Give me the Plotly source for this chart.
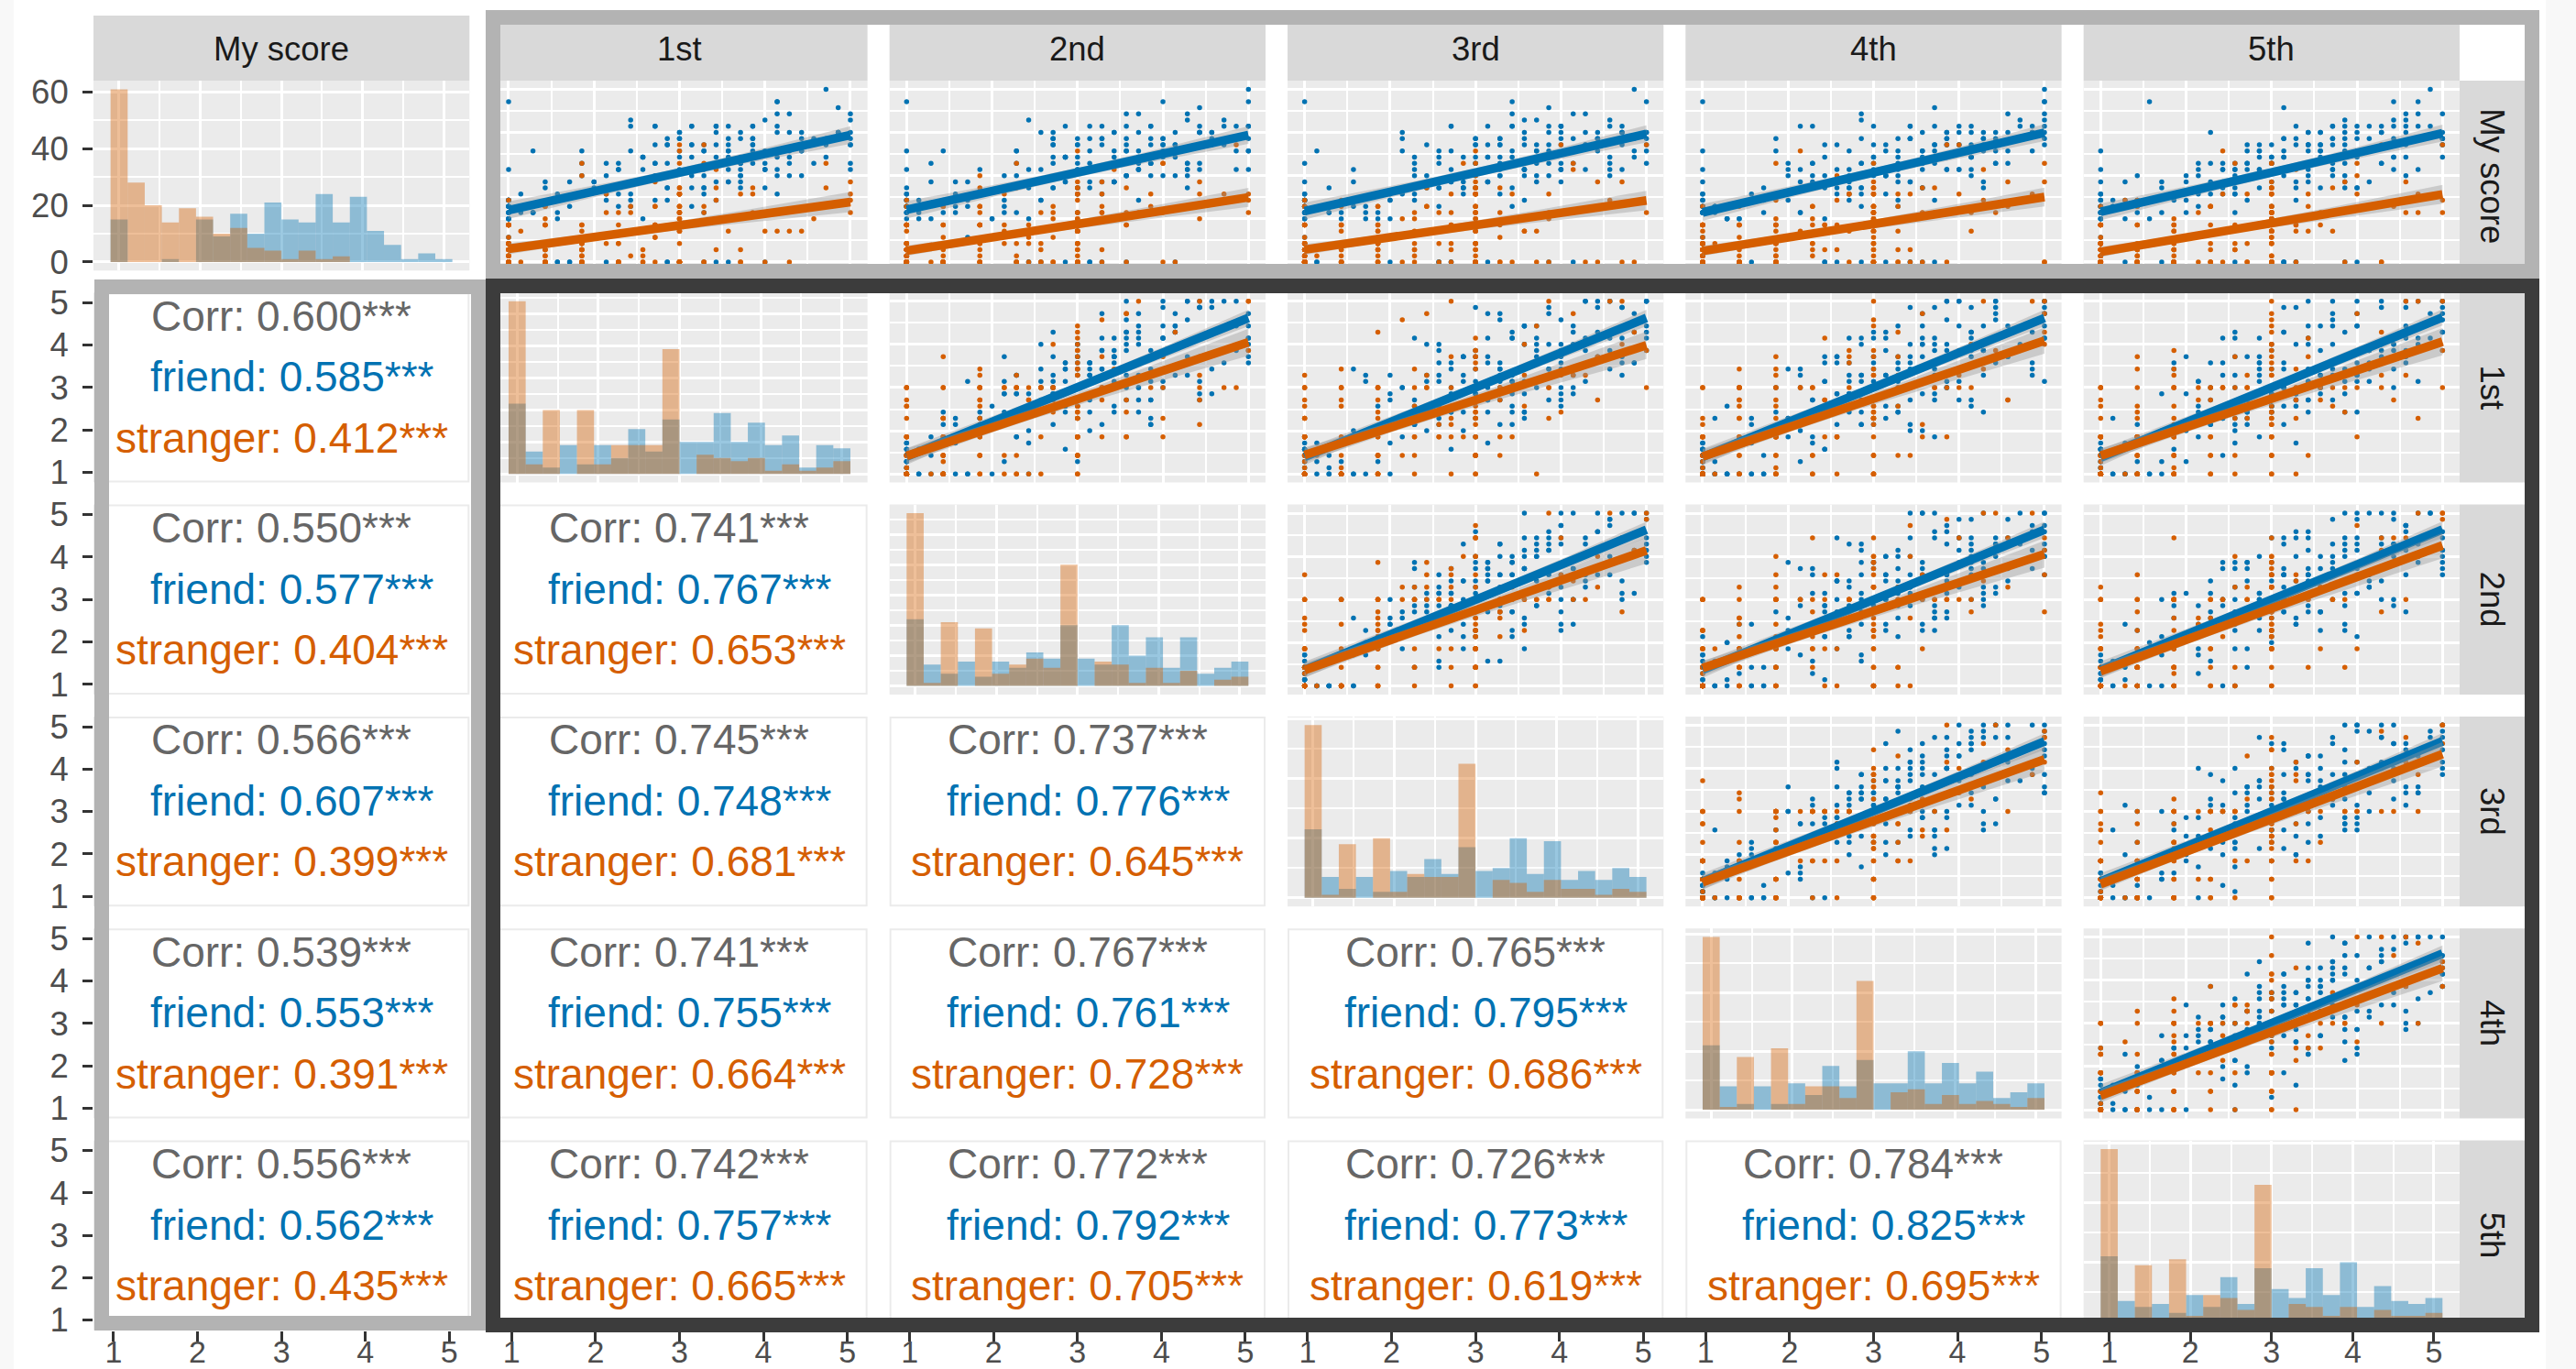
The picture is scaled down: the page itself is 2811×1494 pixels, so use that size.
import numpy as np
import plotly.graph_objects as go

W, H = 2811, 1494
FONT = "Liberation Sans, Arial, Helvetica, sans-serif"

VARIABLES = ["My score", "1st", "2nd", "3rd", "4th", "5th"]
GROUPS = ["friend", "stranger"]
GROUP_RGB = {"friend": (0, 114, 178), "stranger": (213, 94, 0)}

# Every score is the mean of seven 1-5 items, stored as step counts k (score = 1 + k / 7).
ITEMS = 7

my_score_friend = [
    0, 9, 8, 11, 9, 10, 26, 8, 7, 9, 10, 0, 8, 15, 9, 8, 10, 10, 7, 11,
    9, 13, 0, 8, 10, 18, 0, 9, 8, 4, 0, 10, 8, 7, 13, 7, 12, 9, 16, 7,
    11, 0, 9, 14, 7, 12, 8, 18, 10, 13, 10, 15, 12, 0, 17, 11, 8, 13, 20, 11,
    14, 9, 16, 12, 0, 20, 15, 11, 13, 18, 16, 12, 0, 14, 19, 10, 15, 23, 13, 17,
    13, 19, 15, 0, 16, 0, 21, 14, 17, 12, 15, 12, 18, 14, 0, 22, 16, 0, 10, 19,
    15, 13, 19, 12, 16, 14, 22, 13, 17, 11, 13, 19, 16, 0, 22, 15, 17, 12, 21, 16,
    17, 14, 20, 15, 12, 18, 16, 22, 13, 19, 17, 21, 0, 18, 15, 22, 17, 14, 20, 18,
    18, 15, 20, 16, 24, 14, 19, 16, 21, 15, 20, 16, 18, 22, 15, 19, 17, 21, 14, 19,
    19, 21, 15, 18, 25, 17, 20, 16, 19, 22, 20, 17, 22, 19, 21, 26, 18, 20, 15, 23,
    22, 19, 21, 24, 18, 21, 20, 22, 16, 20, 21, 23, 19, 22, 28, 20, 18, 24, 26, 21,
]
first_friend = [
    0, 2, 0, 4, 0, 0, 0, 1, 0, 5, 0, 0, 2, 0, 0, 4, 0, 0, 0, 1,
    0, 3, 0, 0, 0, 2, 4, 0, 0, 0, 5, 8, 2, 4, 7, 0, 3, 9, 6, 0,
    9, 4, 15, 6, 11, 8, 2, 10, 13, 5, 17, 9, 13, 5, 11, 8, 16, 7, 14, 10,
    15, 10, 12, 7, 18, 13, 9, 16, 11, 6, 9, 13, 8, 19, 17, 12, 14, 10, 18, 11,
    10, 16, 19, 13, 8, 17, 14, 12, 18, 15, 11, 19, 16, 8, 14, 17, 12, 21, 10, 15,
    15, 19, 12, 21, 13, 16, 10, 18, 14, 22, 10, 15, 20, 13, 17, 22, 11, 16, 14, 19,
    15, 22, 14, 18, 16, 21, 23, 12, 17, 13, 19, 22, 16, 18, 21, 12, 17, 23, 20, 14,
    20, 15, 26, 17, 22, 19, 13, 21, 24, 16, 27, 19, 23, 15, 21, 18, 26, 17, 24, 20,
    24, 19, 21, 16, 27, 22, 18, 25, 20, 15, 19, 23, 18, 28, 27, 22, 24, 20, 28, 21,
    20, 26, 28, 23, 18, 27, 24, 22, 28, 25, 23, 28, 28, 20, 26, 28, 24, 28, 22, 27,
]
second_friend = [
    0, 0, 3, 0, 0, 1, 0, 0, 2, 0, 0, 3, 0, 0, 0, 1, 0, 5, 0, 0,
    0, 2, 0, 4, 0, 0, 0, 1, 0, 5, 0, 3, 8, 1, 5, 10, 0, 4, 2, 7,
    6, 13, 5, 9, 7, 12, 14, 3, 8, 4, 11, 14, 8, 10, 13, 4, 9, 15, 12, 6,
    13, 8, 19, 10, 15, 12, 6, 14, 17, 9, 20, 12, 16, 8, 14, 11, 19, 10, 17, 13,
    17, 12, 14, 9, 20, 15, 11, 18, 13, 8, 10, 14, 9, 20, 18, 13, 15, 11, 19, 12,
    11, 17, 20, 14, 9, 18, 15, 13, 19, 16, 13, 21, 18, 10, 16, 19, 14, 23, 12, 17,
    17, 21, 14, 23, 15, 18, 12, 20, 16, 24, 12, 17, 22, 15, 19, 24, 13, 18, 16, 21,
    17, 24, 16, 20, 18, 23, 25, 14, 19, 15, 21, 24, 18, 20, 23, 14, 19, 25, 22, 16,
    22, 17, 28, 19, 24, 21, 15, 23, 26, 18, 28, 22, 26, 18, 24, 21, 28, 20, 27, 23,
    27, 22, 24, 19, 28, 25, 21, 28, 23, 18, 22, 26, 21, 28, 28, 25, 27, 23, 28, 24,
]
third_friend = [
    1, 0, 0, 0, 4, 0, 0, 2, 0, 0, 0, 0, 0, 4, 2, 0, 0, 0, 3, 0,
    0, 0, 3, 0, 0, 1, 0, 0, 2, 0, 1, 9, 6, 0, 4, 7, 2, 11, 0, 5,
    8, 12, 5, 14, 6, 9, 3, 11, 7, 15, 4, 9, 14, 7, 11, 16, 5, 10, 8, 13,
    10, 17, 9, 13, 11, 16, 18, 7, 12, 8, 14, 17, 11, 13, 16, 7, 12, 18, 15, 9,
    15, 10, 21, 12, 17, 14, 8, 16, 19, 11, 21, 13, 17, 9, 15, 12, 20, 11, 18, 14,
    18, 13, 15, 10, 21, 16, 12, 19, 14, 9, 12, 16, 11, 22, 20, 15, 17, 13, 21, 14,
    13, 19, 22, 16, 11, 20, 17, 15, 21, 18, 15, 23, 20, 12, 18, 21, 16, 25, 14, 19,
    19, 23, 16, 25, 17, 20, 14, 22, 18, 26, 14, 19, 24, 17, 21, 26, 15, 20, 18, 23,
    19, 26, 18, 22, 20, 25, 27, 16, 21, 17, 24, 27, 21, 23, 26, 17, 22, 28, 25, 19,
    25, 20, 28, 22, 27, 24, 18, 26, 28, 21, 28, 25, 28, 21, 27, 24, 28, 23, 28, 26,
]
fourth_friend = [
    0, 0, 5, 0, 1, 0, 0, 0, 3, 0, 5, 0, 1, 0, 0, 0, 4, 0, 2, 0,
    1, 0, 0, 0, 4, 0, 0, 2, 0, 0, 0, 4, 0, 10, 8, 3, 5, 1, 9, 2,
    4, 10, 13, 7, 2, 11, 8, 6, 12, 9, 7, 15, 12, 4, 10, 13, 8, 17, 6, 11,
    12, 16, 9, 18, 10, 13, 7, 15, 11, 19, 7, 12, 17, 10, 14, 19, 8, 13, 11, 16,
    12, 19, 11, 15, 13, 18, 20, 9, 14, 10, 15, 18, 12, 14, 17, 8, 13, 19, 16, 10,
    16, 11, 22, 13, 18, 15, 9, 17, 20, 12, 23, 15, 19, 11, 17, 14, 22, 13, 20, 16,
    20, 15, 17, 12, 23, 18, 14, 21, 16, 11, 14, 18, 13, 24, 22, 17, 19, 15, 23, 16,
    15, 21, 24, 18, 13, 22, 19, 17, 23, 20, 17, 25, 22, 14, 20, 23, 18, 27, 16, 21,
    21, 25, 18, 27, 19, 22, 16, 24, 20, 28, 17, 22, 27, 20, 24, 28, 18, 23, 21, 26,
    22, 28, 21, 25, 23, 28, 28, 19, 24, 20, 27, 28, 24, 26, 28, 20, 25, 28, 28, 22,
]
fifth_friend = [
    0, 3, 0, 0, 0, 2, 4, 0, 0, 0, 0, 2, 0, 0, 1, 0, 0, 3, 0, 0,
    0, 0, 5, 0, 1, 0, 0, 0, 3, 0, 11, 3, 7, 0, 5, 2, 10, 1, 8, 4,
    11, 6, 8, 3, 14, 9, 5, 12, 7, 2, 6, 10, 5, 16, 14, 9, 11, 7, 15, 8,
    8, 14, 17, 11, 6, 15, 12, 10, 16, 13, 10, 18, 15, 7, 13, 16, 11, 20, 9, 14,
    14, 18, 11, 20, 12, 15, 9, 17, 13, 21, 8, 13, 18, 11, 15, 20, 9, 14, 12, 17,
    13, 20, 12, 16, 14, 19, 21, 10, 15, 11, 17, 20, 14, 16, 19, 10, 15, 21, 18, 12,
    18, 13, 24, 15, 20, 17, 11, 19, 22, 14, 25, 17, 21, 13, 19, 16, 24, 15, 22, 18,
    22, 17, 19, 14, 25, 20, 16, 23, 18, 13, 16, 20, 15, 26, 24, 19, 21, 17, 25, 18,
    17, 23, 26, 20, 15, 24, 21, 19, 25, 22, 20, 28, 25, 17, 23, 26, 21, 28, 19, 24,
    24, 28, 21, 28, 22, 25, 19, 27, 23, 28, 20, 25, 28, 23, 27, 28, 21, 26, 24, 28,
]

my_score_stranger = [
    0, 3, 0, 1, 6, 0, 2, 0, 3, 0, 2, 0, 0, 6, 0, 1, 3, 0, 2, 0,
    0, 3, 2, 0, 0, 6, 0, 1, 0, 4, 1, 0, 3, 0, 2, 0, 6, 0, 3, 1,
    0, 2, 0, 6, 3, 0, 1, 0, 10, 2, 3, 0, 6, 2, 0, 3, 0, 0, 9, 0,
    0, 6, 3, 0, 2, 1, 0, 3, 6, 1, 6, 0, 2, 3, 0, 9, 3, 0, 1, 5,
    3, 0, 6, 9, 0, 2, 6, 0, 0, 2, 0, 6, 3, 1, 0, 6, 2, 9, 0, 3,
    5, 0, 3, 9, 6, 0, 2, 2, 8, 0, 9, 0, 4, 3, 10, 6, 0, 0, 2, 7,
    3, 5, 0, 9, 6, 2, 3, 0, 8, 1, 6, 0, 12, 5, 8, 11, 0, 7, 16, 4,
    0, 11, 8, 5, 14, 9, 0, 12, 6, 7, 8, 5, 0, 11, 8, 16, 0, 5, 9, 11,
    12, 0, 6, 5, 11, 8, 0, 18, 7, 5, 8, 13, 0, 11, 5, 16, 9, 7, 12, 0,
    11, 5, 15, 8, 0, 12, 8, 19, 11, 13, 13, 8, 16, 19, 11, 0, 10,
]
first_stranger = [
    0, 0, 3, 0, 0, 0, 6, 0, 0, 0, 0, 0, 0, 0, 14, 0, 0, 3, 0, 0,
    0, 6, 0, 0, 0, 0, 0, 0, 9, 0, 3, 0, 0, 0, 0, 1, 0, 0, 0, 6,
    0, 0, 0, 12, 0, 0, 3, 0, 0, 0, 0, 3, 0, 6, 0, 0, 14, 0, 2, 3,
    6, 0, 3, 14, 3, 0, 9, 3, 0, 6, 3, 9, 0, 6, 3, 14, 0, 3, 11, 1,
    0, 6, 14, 3, 9, 6, 0, 16, 6, 3, 14, 3, 6, 0, 11, 6, 17, 3, 6, 8,
    6, 14, 0, 10, 3, 14, 6, 19, 8, 12, 14, 3, 12, 9, 17, 6, 14, 0, 11, 14,
    9, 14, 6, 16, 12, 3, 14, 19, 14, 10, 14, 6, 17, 14, 10, 20, 14, 3, 14, 12,
    11, 14, 14, 21, 6, 14, 16, 14, 9, 14, 14, 18, 9, 14, 14, 6, 14, 23, 12, 14,
    20, 14, 12, 14, 8, 16, 14, 14, 25, 11, 14, 10, 19, 14, 22, 16, 12, 14, 26, 14,
    14, 24, 17, 9, 21, 14, 28, 16, 19, 12, 28, 20, 26, 14, 28, 23, 28,
]
second_stranger = [
    0, 0, 0, 0, 6, 0, 0, 0, 3, 0, 0, 3, 0, 0, 0, 0, 10, 0, 0, 0,
    0, 0, 0, 14, 0, 0, 0, 0, 0, 3, 0, 0, 6, 0, 0, 0, 0, 2, 0, 0,
    3, 0, 0, 0, 0, 9, 0, 0, 0, 0, 0, 6, 0, 3, 0, 0, 0, 11, 3, 0,
    3, 0, 9, 3, 6, 0, 3, 14, 0, 3, 6, 3, 0, 14, 3, 0, 8, 3, 6, 0,
    3, 14, 6, 0, 6, 11, 3, 6, 16, 0, 6, 3, 14, 9, 0, 6, 14, 3, 18, 6,
    14, 6, 3, 12, 8, 14, 0, 16, 6, 10, 6, 14, 10, 3, 14, 18, 9, 14, 0, 12,
    14, 8, 14, 20, 6, 14, 11, 3, 16, 14, 10, 14, 6, 14, 18, 14, 3, 14, 21, 12,
    14, 20, 11, 14, 6, 16, 14, 9, 14, 24, 16, 14, 14, 8, 14, 21, 12, 14, 6, 14,
    14, 11, 18, 14, 24, 14, 9, 14, 16, 14, 12, 14, 21, 16, 14, 9, 24, 14, 18, 14,
    26, 14, 17, 21, 12, 14, 19, 24, 14, 16, 24, 28, 18, 27, 28, 22, 28,
]
third_stranger = [
    0, 0, 0, 0, 0, 3, 0, 0, 9, 0, 0, 6, 0, 0, 0, 0, 0, 14, 0, 0,
    0, 0, 0, 0, 3, 0, 0, 0, 0, 0, 0, 0, 0, 6, 0, 0, 0, 0, 3, 0,
    0, 12, 0, 0, 0, 0, 1, 0, 0, 0, 3, 0, 0, 0, 6, 0, 3, 0, 0, 14,
    0, 3, 6, 0, 14, 3, 0, 6, 3, 9, 6, 0, 3, 11, 0, 3, 6, 14, 0, 3,
    14, 3, 6, 0, 9, 6, 3, 0, 17, 6, 6, 14, 0, 6, 3, 14, 9, 6, 0, 12,
    9, 3, 14, 6, 16, 0, 6, 14, 11, 3, 14, 8, 6, 14, 3, 12, 14, 19, 9, 14,
    6, 14, 16, 10, 14, 3, 14, 12, 20, 14, 14, 11, 14, 6, 21, 14, 14, 9, 14, 16,
    14, 6, 14, 18, 14, 10, 23, 14, 12, 14, 9, 14, 20, 14, 14, 13, 14, 6, 14, 17,
    14, 16, 14, 10, 14, 22, 14, 14, 8, 18, 16, 14, 24, 12, 14, 18, 14, 20, 10, 14,
    14, 19, 22, 14, 26, 16, 12, 21, 14, 24, 26, 28, 22, 28, 20, 27, 25,
]
fourth_stranger = [
    0, 0, 0, 6, 0, 0, 0, 0, 0, 3, 0, 0, 0, 0, 0, 0, 9, 0, 0, 0,
    3, 0, 0, 0, 0, 0, 0, 14, 0, 0, 0, 0, 1, 0, 0, 6, 0, 0, 0, 0,
    0, 0, 0, 3, 0, 0, 0, 0, 11, 0, 0, 3, 6, 0, 0, 14, 0, 3, 0, 0,
    3, 6, 0, 3, 9, 0, 3, 0, 14, 6, 0, 3, 14, 6, 0, 3, 9, 6, 3, 0,
    6, 0, 3, 14, 6, 11, 0, 6, 3, 17, 3, 9, 6, 0, 14, 6, 3, 16, 6, 0,
    14, 6, 0, 9, 3, 14, 10, 6, 18, 6, 9, 14, 3, 14, 6, 11, 14, 0, 16, 14,
    14, 6, 18, 14, 10, 14, 3, 16, 14, 9, 14, 20, 14, 8, 14, 12, 14, 6, 17, 14,
    6, 14, 14, 22, 11, 14, 16, 14, 14, 9, 14, 12, 14, 14, 19, 6, 14, 16, 14, 21,
    14, 17, 10, 14, 14, 20, 14, 8, 14, 14, 22, 14, 14, 16, 10, 14, 25, 14, 18, 12,
    17, 14, 23, 14, 28, 19, 14, 21, 12, 25, 28, 24, 28, 20, 27, 28, 23,
]
fifth_stranger = [
    0, 0, 0, 0, 3, 0, 0, 0, 0, 0, 0, 0, 6, 0, 0, 0, 0, 0, 3, 0,
    0, 0, 0, 0, 0, 11, 0, 0, 0, 0, 0, 3, 0, 0, 0, 0, 0, 6, 0, 0,
    0, 0, 0, 0, 14, 0, 0, 0, 2, 0, 0, 6, 0, 3, 0, 0, 0, 9, 0, 3,
    3, 0, 3, 6, 0, 14, 3, 0, 6, 3, 0, 6, 3, 0, 3, 9, 0, 14, 3, 6,
    6, 3, 0, 9, 14, 6, 3, 6, 0, 11, 3, 6, 14, 6, 0, 9, 6, 17, 3, 6,
    6, 14, 9, 3, 14, 6, 0, 11, 14, 8, 14, 6, 14, 11, 3, 14, 9, 16, 6, 14,
    12, 14, 6, 14, 18, 9, 14, 3, 14, 14, 14, 9, 14, 16, 14, 6, 20, 14, 11, 14,
    14, 14, 8, 14, 21, 14, 12, 14, 16, 6, 18, 14, 14, 10, 14, 14, 23, 14, 9, 14,
    14, 12, 16, 14, 14, 25, 14, 10, 14, 19, 14, 20, 14, 12, 17, 14, 24, 16, 14, 10,
    21, 14, 16, 26, 14, 19, 14, 23, 17, 14, 25, 28, 21, 28, 26, 23, 28,
]

# Correlations printed in the lower triangle, by (row, column) of the matrix.
corr_cells = [(1, 0), (2, 0), (2, 1), (3, 0), (3, 1), (3, 2), (4, 0), (4, 1),
              (4, 2), (4, 3), (5, 0), (5, 1), (5, 2), (5, 3), (5, 4)]
corr_all = ["0.600", "0.550", "0.741", "0.566", "0.745", "0.737", "0.539", "0.741",
            "0.767", "0.765", "0.556", "0.742", "0.772", "0.726", "0.784"]
corr_friend = ["0.585", "0.577", "0.767", "0.607", "0.748", "0.776", "0.553", "0.755",
               "0.761", "0.795", "0.562", "0.757", "0.792", "0.773", "0.825"]
corr_stranger = ["0.412", "0.404", "0.653", "0.399", "0.681", "0.645", "0.391", "0.664",
                 "0.728", "0.686", "0.435", "0.665", "0.705", "0.619", "0.695"]
SIGNIF = "***"

raw = {
    "friend": [my_score_friend, first_friend, second_friend, third_friend, fourth_friend, fifth_friend],
    "stranger": [my_score_stranger, first_stranger, second_stranger, third_stranger, fourth_stranger, fifth_stranger],
}
for g in GROUPS:
    n0 = len(raw[g][0])
    for col in raw[g]:
        assert len(col) == n0, (g, len(col), n0)
scores = {g: [1 + np.asarray(col, dtype=float) / ITEMS for col in raw[g]] for g in GROUPS}

# ---------------------------------------------------------------- geometry (px)
N = 6
PX0, PW, PDX = 102.0, 410.3, 434.33
PY0, PH, PDY = 88.0, 207.3, 231.3
STRIP_TOP, STRIP_BOT = 17.0, 88.0
RSTRIP_L, RSTRIP_R = 2684.0, 2755.0
NBINS = 20
TEXT_RANGE = [0.76, 5.24]

PANEL_BG = "#EBEBEB"
STRIP_BG = "#D9D9D9"
GRID = "#FFFFFF"
TICK_FONT = dict(family=FONT, size=36.5, color="#4D4D4D")
XTICK_FONT = dict(family=FONT, size=34, color="#4D4D4D")


def fx(px):
    return px / W


def fy(py):
    return 1 - py / H


def panel_box(r, c):
    x0 = PX0 + c * PDX
    y0 = PY0 + r * PDY
    return x0, y0, x0 + PW, y0 + PH


def expand(lo, hi, f=0.05):
    d = hi - lo
    return [lo - f * d, hi + f * d]


def rgba(g, a):
    r_, g_, b_ = GROUP_RGB[g]
    return f"rgba({r_},{g_},{b_},{a})"


def bin_counts(values, lo, width):
    idx = np.ceil((values - lo) / width - 0.5 - 1e-9).astype(int)
    idx = np.clip(idx, 0, NBINS - 1)
    return np.bincount(idx, minlength=NBINS)


def smooth(x, y, n=80):
    b1, b0 = np.polyfit(x, y, 1)
    xs = np.linspace(x.min(), x.max(), n)
    fit = b0 + b1 * xs
    resid = y - (b0 + b1 * x)
    s = np.sqrt(np.sum(resid ** 2) / (len(x) - 2))
    xbar = x.mean()
    sxx = np.sum((x - xbar) ** 2)
    se = s * np.sqrt(1 / len(x) + (xs - xbar) ** 2 / sxx)
    tq = 1.972
    return xs, fit, fit - tq * se, fit + tq * se


def rect(x0, y0, x1, y1, fill, layer="below", line_color=None, line_width=0):
    return dict(type="rect", xref="paper", yref="paper",
                x0=fx(x0), x1=fx(x1), y0=fy(y1), y1=fy(y0),
                fillcolor=fill, layer=layer,
                line=dict(color=line_color or fill, width=line_width))


def frame(x0, y0, x1, y1, t, color):
    h = t / 2
    return dict(type="rect", xref="paper", yref="paper",
                x0=fx(x0 + h), x1=fx(x1 - h), y0=fy(y1 - h), y1=fy(y0 + h),
                fillcolor="rgba(0,0,0,0)", layer="above",
                line=dict(color=color, width=t))


fig = go.Figure()
layout = {}
shapes = []
annotations = []

# faint page edges
shapes.append(rect(0, 0, 15, H, "#F8F8F8"))
shapes.append(rect(2778, 0, W, H, "#F8F8F8"))

unit_major = [1, 2, 3, 4, 5]
unit_minor = [1.5, 2.5, 3.5, 4.5]

for r in range(N):
    for c in range(N):
        i = r * N + c + 1
        sfx = "" if i == 1 else str(i)
        xa, ya = "x" + sfx, "y" + sfx
        x0, y0, x1, y1 = panel_box(r, c)
        common = dict(zeroline=False, showline=False, showgrid=False, ticks="",
                      showticklabels=False, fixedrange=True, automargin=False,
                      tickmode="array", tickvals=unit_major)
        xax = dict(domain=[fx(x0), fx(x1)], anchor=ya, **common)
        yax = dict(domain=[fy(y1), fy(y0)], anchor=xa, **common)
        xmaj, xmin_, ymaj, ymin_ = unit_major, unit_minor, unit_major, unit_minor

        if r == c:
            # diagonal: overlaid histograms
            allv = np.concatenate([scores[g][c] for g in GROUPS])
            lo, hi = allv.min(), allv.max()
            width = (hi - lo) / (NBINS - 1)
            centers = lo + width * np.arange(NBINS)
            counts = {g: bin_counts(scores[g][c], lo, width) for g in GROUPS}
            cmax = max(counts[g].max() for g in GROUPS)
            xax["range"] = expand(lo - width / 2, hi + width / 2)
            yax["range"] = [-0.05 * cmax, 1.05 * cmax]
            step = 20 if yax["range"][1] > 60 else 10
            ymaj = list(range(0, int(yax["range"][1]) + 1, step))
            ymin_ = [m + step / 2 for m in ymaj if m + step / 2 < yax["range"][1]]
            yax["tickvals"] = ymaj
            shapes.append(rect(x0, y0, x1, y1, PANEL_BG))
            for g in GROUPS:
                fig.add_trace(go.Bar(x=centers, y=counts[g], width=width, xaxis=xa, yaxis=ya,
                                     marker=dict(color=rgba(g, 0.4), line=dict(width=0)),
                                     hoverinfo="skip", showlegend=False))
        elif r < c:
            # upper triangle: scatter with linear fits
            xax["range"] = expand(1, 5)
            yax["range"] = expand(1, 5)
            shapes.append(rect(x0, y0, x1, y1, PANEL_BG))
            for g in GROUPS:
                fig.add_trace(go.Scatter(x=scores[g][c], y=scores[g][r], mode="markers",
                                         xaxis=xa, yaxis=ya, hoverinfo="skip", showlegend=False,
                                         marker=dict(size=5.5, color=rgba(g, 1), line=dict(width=0))))
            for g in GROUPS:
                xs, fit, lwr, upr = smooth(scores[g][c], scores[g][r])
                fig.add_trace(go.Scatter(x=np.concatenate([xs, xs[::-1]]),
                                         y=np.concatenate([upr, lwr[::-1]]),
                                         fill="toself", fillcolor="rgba(153,153,153,0.4)",
                                         line=dict(width=0), mode="lines", xaxis=xa, yaxis=ya,
                                         hoverinfo="skip", showlegend=False))
                fig.add_trace(go.Scatter(x=xs, y=fit, mode="lines", xaxis=xa, yaxis=ya,
                                         line=dict(color=rgba(g, 1), width=9.5),
                                         hoverinfo="skip", showlegend=False))
        else:
            # lower triangle: correlation text
            xax["range"] = TEXT_RANGE
            yax["range"] = TEXT_RANGE
            # an empty trace keeps the axes of this cell drawn
            fig.add_trace(go.Scatter(x=[3], y=[3], mode="markers", xaxis=xa, yaxis=ya,
                                     marker=dict(size=1, opacity=0), hoverinfo="skip",
                                     showlegend=False))
            shapes.append(rect(x0 + 1, y0 + 1, x1 - 1, y1 - 1, "#FFFFFF",
                               line_color=PANEL_BG, line_width=2))
            k = corr_cells.index((r, c))
            cx = (x0 + x1) / 2
            lines = [
                (f"Corr: {corr_all[k]}{SIGNIF}", "#666666", 0, 25.5),
                (f"friend: {corr_friend[k]}{SIGNIF}", rgba("friend", 1), 12, 92),
                (f"stranger: {corr_stranger[k]}{SIGNIF}", rgba("stranger", 1), 0, 158.5),
            ]
            for text, color, dx, dy in lines:
                annotations.append(dict(text=text, xref="paper", yref="paper",
                                        x=fx(cx + dx), y=fy(y0 + dy), xanchor="center",
                                        yanchor="middle", showarrow=False,
                                        font=dict(family=FONT, size=46, color=color)))
            xmaj = ymaj = None

        if xmaj is not None:
            xax.update(showgrid=True, gridcolor=GRID, gridwidth=2.6,
                       minor=dict(tickmode="array", tickvals=xmin_, showgrid=True,
                                  gridcolor=GRID, gridwidth=1.5, ticks=""))
            yax.update(showgrid=True, gridcolor=GRID, gridwidth=2.6,
                       minor=dict(tickmode="array", tickvals=ymin_, showgrid=True,
                                  gridcolor=GRID, gridwidth=1.5, ticks=""))

        if r == N - 1:
            xax.update(ticks="outside", ticklen=11, tickwidth=3, tickcolor="#333333",
                       showticklabels=True, tickfont=XTICK_FONT, ticklabelstandoff=-18)
        if c == 0:
            yax.update(ticks="outside", ticklen=11, tickwidth=3, tickcolor="#333333",
                       showticklabels=True, tickfont=TICK_FONT, ticklabelstandoff=8)

        layout["xaxis" + sfx] = xax
        layout["yaxis" + sfx] = yax

# strips
for c, name in enumerate(VARIABLES):
    x0, _, x1, _ = panel_box(0, c)
    shapes.append(rect(x0, STRIP_TOP, x1, STRIP_BOT, STRIP_BG))
    annotations.append(dict(text=name, xref="paper", yref="paper", x=fx((x0 + x1) / 2),
                            y=fy((STRIP_TOP + STRIP_BOT) / 2 + 1), xanchor="center", yanchor="middle",
                            showarrow=False, font=dict(family=FONT, size=36.5, color="#1A1A1A")))
for r, name in enumerate(VARIABLES):
    _, y0, _, y1 = panel_box(r, 0)
    shapes.append(rect(RSTRIP_L, y0, RSTRIP_R, y1, STRIP_BG))
    annotations.append(dict(text=name, xref="paper", yref="paper", x=fx((RSTRIP_L + RSTRIP_R) / 2),
                            y=fy((y0 + y1) / 2), xanchor="center", yanchor="middle", textangle=90,
                            showarrow=False, font=dict(family=FONT, size=36.5, color="#1A1A1A")))

# frames around the blocks of the matrix
shapes.append(frame(530, 11, 2771, 304, 16, "#B3B3B3"))
shapes.append(frame(103, 305, 530, 1452, 16, "#B3B3B3"))
shapes.append(frame(530, 304, 2771, 1454, 16, "#3C3C3C"))

fig.update_layout(
    width=W, height=H, autosize=False,
    margin=dict(l=0, r=0, t=0, b=0, pad=0, autoexpand=False),
    paper_bgcolor="#FFFFFF", plot_bgcolor="rgba(0,0,0,0)",
    barmode="overlay", showlegend=False,
    font=dict(family=FONT),
    shapes=shapes, annotations=annotations,
    **layout,
)

fig.write_html("out.html", include_plotlyjs=True, config={"displayModeBar": False},
               post_script="document.body.style.margin='0';")
